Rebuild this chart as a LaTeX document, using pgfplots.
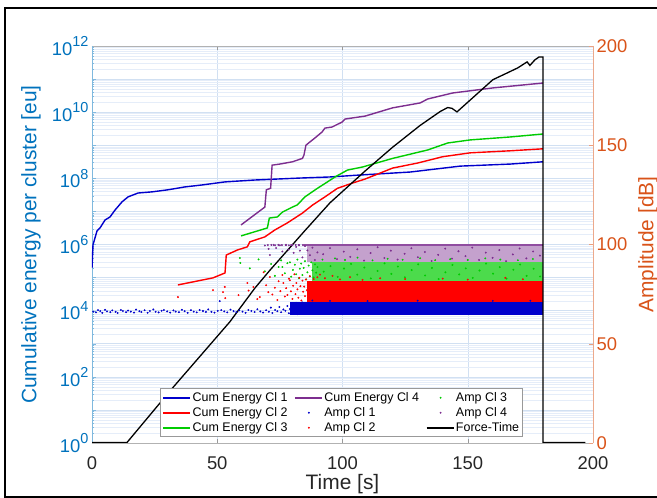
\documentclass[border=0pt]{standalone}
\usepackage{pgfplots}
\pgfplotsset{compat=1.18}
\usepackage{fontspec}
\setmainfont{Liberation Sans}
\definecolor{mblue}{rgb}{0,0.447,0.741}
\definecolor{morange}{rgb}{0.85,0.325,0.098}
\definecolor{gridc}{rgb}{0.82,0.88,0.95}
\definecolor{gridm}{rgb}{0.90,0.93,0.975}
\definecolor{c1}{rgb}{0,0,0.8}
\definecolor{c2}{rgb}{1,0,0}
\definecolor{c3}{rgb}{0,0.8,0}
\definecolor{c4}{rgb}{0.49,0.18,0.56}
\newcommand{\tp}[1]{10\raisebox{8.5bp}{\fontsize{14.5}{14.5}\selectfont #1}}
\pgfplotsset{
  dotlegend/.style={legend image code/.code={\draw[##1] plot coordinates {(14bp,0bp)};}},
}
\begin{document}
\begin{tikzpicture}
\begin{axis}[
  scale only axis, width=501bp, height=397bp,
  xmin=0, xmax=200, ymode=log, ymin=1, ymax=1e12,
  axis y line*=left,
  separate axis lines,
  x axis line style={black!30},
  y axis line style={mblue!50},
  xtick={0,50,100,150,200},
  ytick={1,1e1,1e2,1e3,1e4,1e5,1e6,1e7,1e8,1e9,1e10,1e11,1e12},
  yticklabels={\tp{0},,\tp{2},,\tp{4},,\tp{6},,\tp{8},,\tp{10},,\tp{12}},
  minor ytick={2e0,3e0,4e0,5e0,6e0,7e0,8e0,9e0,2e1,3e1,4e1,5e1,6e1,7e1,8e1,9e1,2e2,3e2,4e2,5e2,6e2,7e2,8e2,9e2,2e3,3e3,4e3,5e3,6e3,7e3,8e3,9e3,2e4,3e4,4e4,5e4,6e4,7e4,8e4,9e4,2e5,3e5,4e5,5e5,6e5,7e5,8e5,9e5,2e6,3e6,4e6,5e6,6e6,7e6,8e6,9e6,2e7,3e7,4e7,5e7,6e7,7e7,8e7,9e7,2e8,3e8,4e8,5e8,6e8,7e8,8e8,9e8,2e9,3e9,4e9,5e9,6e9,7e9,8e9,9e9,2e10,3e10,4e10,5e10,6e10,7e10,8e10,9e10,2e11,3e11,4e11,5e11,6e11,7e11,8e11,9e11},
  xmajorgrids, ymajorgrids, yminorgrids,
  major grid style={gridc, line width=0.5bp},
  minor grid style={gridm, line width=0.4bp},
  tick align=inside,
  major tick length=4bp, minor tick length=2bp,
  x tick style={black!40},
  y tick style={mblue!50},
  tick label style={font=\fontsize{18.5}{18.5}\selectfont},
  xticklabel style={black!85, inner sep=0pt, yshift=-13.5bp},
  yticklabel style={mblue},
  /pgf/number format/assume math mode=true,
  xlabel={Time [s]},
  xlabel style={at={(axis description cs:0.5,-0.1171)}, anchor=base, inner sep=0pt, black!85, font=\fontsize{21}{21}\selectfont},
  ylabel={Cumulative energy per cluster [eu]},
  ylabel style={at={(axis description cs:-0.1218,0.5)}, anchor=center, mblue, font=\fontsize{21}{21}\selectfont},
]
\addplot[c1, line width=1.4bp] coordinates {(0,1.95e5) (0.4,9.8e5) (2,2.57e6) (3.2,3.16e6) (5.2,5.5e6) (7.2,6.8e6) (9.2,1.1e7) (12,1.95e7) (14.4,2.75e7) (18.4,3.6e7) (24,3.9e7) (30.3,4.5e7) (37.1,5.5e7) (43.9,6.3e7) (53.1,7.8e7) (65,8.9e7) (83,1.02e8) (95,1.1e8) (107,1.26e8) (127,1.55e8) (147,2.34e8) (167,2.7e8) (180,3.16e8)};
\addplot[c2, line width=1.4bp] coordinates {(34.3,6e4) (48.3,9.8e4) (53.1,1.38e5) (53.6,4.8e5) (58,6.8e5) (62,8.5e5) (63,1.2e6) (69,1.7e6) (73,2.75e6) (78,4.5e6) (84,8.9e6) (88,1.55e7) (93,2.75e7) (98,5e7) (104,7.2e7) (109,9.5e7) (120,2.04e8) (130,2.9e8) (140,4.5e8) (151,5.9e8) (167,6.8e8) (180,7.8e8)};
\addplot[c3, line width=1.4bp] coordinates {(59.5,1.82e6) (70,3.16e6) (70.8,6.3e6) (74,6.8e6) (76,9.5e6) (80,1.35e7) (82,1.58e7) (85,2.75e7) (90,5e7) (94,7.8e7) (97,1.1e8) (102,1.78e8) (108,2.2e8) (120,4e8) (134,7.2e8) (142,1.17e9) (151,1.45e9) (167,1.78e9) (180,2.19e9)};
\addplot[c4, line width=1.4bp] coordinates {(59.5,3.9e6) (69,1.35e7) (69.6,4.5e7) (71.3,5e7) (71.9,2.5e8) (75,2.7e8) (80,3.16e8) (84,4e8) (84.6,5e8) (85.4,1e9) (87,1.26e9) (89,1.66e9) (91.8,2.5e9) (93,3.3e9) (95.8,3.55e9) (99.8,5e9) (101,6.2e9) (109,7.6e9) (120,1.35e10) (131,1.9e10) (134,2.5e10) (144,3.8e10) (160,5.4e10) (180,7.6e10)};
\end{axis}
\begin{axis}[
  scale only axis, width=501bp, height=397bp,
  xmin=0, xmax=200, ymin=0, ymax=200,
  axis y line*=right, axis x line=none,
  y axis line style={morange!50},
  ytick={0,50,100,150,200},
  tick align=inside, major tick length=4bp,
  y tick style={morange!55},
  tick label style={font=\fontsize{18.5}{18.5}\selectfont},
  yticklabel style={morange},
  /pgf/number format/assume math mode=true,
  ylabel={Amplitude [dB]},
  ylabel style={at={(axis description cs:1.1098,0.5)}, anchor=center, morange, font=\fontsize{21}{21}\selectfont},
  legend image code/.code={\draw[#1] (0bp,0bp) -- (27bp,0bp);},
  legend columns=3, transpose legend, legend cell align=left,
  legend style={at={(0.136,0.015)}, anchor=south west, draw=black!40, fill=white, line width=0.6bp,
    inner xsep=2bp, inner ysep=1.5bp, row sep=0bp,
    font=\fontsize{12.5}{13}\selectfont,
    nodes={inner sep=1.5bp, text height=9.3bp, text depth=2.7bp},
    /tikz/every even column/.append style={column sep=5bp}},
]
\addlegendimage{c1, line width=1.8bp}\addlegendentry{Cum Energy Cl 1}
\addlegendimage{c2, line width=1.8bp}\addlegendentry{Cum Energy Cl 2}
\addlegendimage{c3, line width=1.8bp}\addlegendentry{Cum Energy Cl 3}
\addlegendimage{c4, line width=1.8bp}\addlegendentry{Cum Energy Cl 4}
\addlegendimage{c1, only marks, mark=*, mark size=0.6bp, dotlegend}\addlegendentry{Amp Cl 1}
\addlegendimage{c2, only marks, mark=*, mark size=0.6bp, dotlegend}\addlegendentry{Amp Cl 2}
\addlegendimage{c3, only marks, mark=*, mark size=0.6bp, dotlegend}\addlegendentry{Amp Cl 3}
\addlegendimage{c4, only marks, mark=*, mark size=0.6bp, dotlegend}\addlegendentry{Amp Cl 4}
\addlegendimage{black, line width=1.8bp}\addlegendentry{Force-Time}
% purple band
\addplot[draw=none, fill=c4!45!white, forget plot] coordinates {(86,91) (180,91) (180,99.4) (86,99.4)} -- cycle;
\addplot[draw=none, fill=c4!85!white, forget plot] coordinates {(84,99.2) (180,99.2) (180,100) (84,100)} -- cycle;
\addplot[c4, only marks, mark=*, mark size=0.75bp, forget plot] coordinates {
(69.0,99.5)(70.5,97.8)(71.0,94.7)(72.5,99.8)(73.5,98.2)(75.0,99.6)(76.0,96.5)(77.5,99.8)(78.5,97.4)(79.5,99.7)(80.5,95.8)(81.5,98.8)(82.5,99.7)(83.0,96.9)(84.0,93.5)(85.0,99.2)(86.0,97.0)(87.0,94.6)(88.0,98.4)(89.0,92.2)(90.0,96.0)
(70.2,99.7)(71.6,99.8)(73.1,99.6)(74.4,99.8)(75.8,99.7)(77.3,99.8)(78.6,99.6)(80.0,99.7)(81.3,99.8)(82.7,99.7)
(92.3,95.1)(95.0,98.2)(97.8,92.6)(100.5,96.4)(103.1,93.8)(105.9,97.6)(108.6,91.9)(111.2,95.7)(114.0,98.6)(116.7,93.2)(119.3,96.9)(122.0,92.4)(124.8,95.3)(127.5,98.1)(130.1,93.6)(132.9,96.2)(135.6,91.7)(138.2,94.8)(141.0,97.9)(143.7,92.9)(146.3,96.6)(149.1,94.1)(151.8,98.4)(154.5,92.2)(157.2,95.9)(159.9,93.3)(162.6,97.2)(165.3,91.6)(168.0,95.0)(170.7,98.0)(173.4,93.0)(176.1,96.5)(178.8,94.4)};
% green band
\addplot[draw=none, fill=c3!70!white, forget plot] coordinates {(88,81.6) (180,81.6) (180,91) (88,91)} -- cycle;
\addplot[c3, only marks, mark=*, mark size=0.75bp, forget plot] coordinates {
(59.0,93.2)(59.2,90.7)(63.0,88.0)(66.5,92.5)(69.0,86.5)(71.5,90.2)(73.0,84.2)(74.5,88.7)(75.5,92.0)(76.0,88.7)(77.0,85.5)(78.0,90.6)(79.0,91.0)(79.5,83.8)(80.2,87.2)(81.0,89.8)(81.5,85.0)(82.0,92.4)(82.6,83.0)(83.0,87.8)(83.5,90.4)(84.0,84.6)(84.5,88.2)(85.0,91.6)(85.5,82.4)(86.0,86.0)(86.5,89.4)(87.0,84.0)(87.5,91.0)(88.0,87.0)(88.5,83.4)(89.0,90.0)(89.5,85.8)(90.0,88.6)
(92,92.4)(97,93.0)(101,92.2)(106,93.4)(112,92.0)(118,92.8)(124,92.3)(131,93.1)(137,92.1)(143,92.6)(150,92.2)(157,93.0)(163,92.4)(170,92.1)(176,92.7)
(92.5,86.3)(95.2,89.1)(98.1,83.7)(100.6,87.9)(103.4,90.2)(105.9,84.8)(108.7,88.4)(111.3,82.9)(114.0,86.7)(116.8,90.5)(119.5,85.2)(122.1,88.9)(124.9,83.5)(127.6,87.1)(130.2,90.0)(133.0,84.4)(135.7,88.2)(138.4,82.6)(141.1,86.0)(143.9,89.7)(146.6,84.9)(149.2,88.0)(152.0,83.2)(154.7,86.9)(157.3,90.4)(160.1,85.3)(162.8,88.6)(165.5,82.8)(168.2,87.3)(170.9,89.9)(173.5,84.2)(176.3,87.8)(178.9,83.9)};
% red band
\addplot[draw=none, fill=c2, forget plot] coordinates {(86,71) (180,71) (180,81.6) (86,81.6)} -- cycle;
\addplot[c2, only marks, mark=*, mark size=0.75bp, forget plot] coordinates {
(34.3,73.5)(48.3,77.0)(52.3,76.0)(53.0,78.6)(53.2,73.0)(58.5,74.5)(62.0,80.6)(62.5,76.8)(64.4,78.6)(66.0,72.5)(67.0,73.5)(68.5,86.0)(69.5,79.5)(70.4,76.0)(71.0,83.6)(72.0,74.8)(73.0,78.2)(74.0,72.0)(74.5,81.5)(75.2,76.5)(76.0,84.6)(76.4,80.6)(77.0,73.8)(77.5,78.0)(78.0,74.6)(78.6,82.8)(79.0,82.0)(79.4,76.4)(80.0,72.6)(80.3,79.2)(80.8,85.0)(81.2,75.0)(81.6,80.6)(82.0,77.4)(82.4,73.2)(82.8,83.2)(83.2,79.0)(83.6,71.8)(84.0,81.8)(84.3,76.2)(84.7,78.8)(85.0,74.0)(85.4,82.4)(85.8,77.0)(86.2,80.0)(86.6,72.8)(87.0,84.0)(87.5,75.6)(88.0,79.6)(88.5,82.6)(89.0,73.4)(90.0,83.5)(91.0,84.8)(93.0,83.0)(96.0,84.2)(99.0,82.4)(103.0,83.6)(108.0,82.2)(115.0,83.0)(125.0,82.6)(140.0,82.8)(150.0,82.3)(165.0,83.2)(172.0,82.5)};
% blue band
\addplot[draw=none, fill=c1, forget plot] coordinates {(79,64.5) (180,64.5) (180,71) (79,71)} -- cycle;
\addplot[c1, only marks, mark=*, mark size=0.75bp, forget plot] coordinates {
(0.5,66.2)(1.6,65.8)(2.4,66.9)(3.3,66.4)(4.1,65.6)(5.2,67.1)(6.0,66.3)(7.3,65.9)(8.1,66.8)(9.4,66.1)(10.2,65.5)(11.5,67.0)(12.3,66.5)(13.6,65.9)(14.4,66.7)(15.5,66.2)(16.8,65.7)(17.6,67.2)(18.9,66.4)(19.7,66.0)(21.0,66.9)(22.2,65.6)(23.1,66.5)(24.5,67.3)(25.4,66.1)(26.6,65.8)(27.8,66.6)(28.7,67.0)(30.0,66.3)(31.2,65.7)(32.5,66.8)(33.4,66.2)(34.7,65.9)(35.9,67.1)(37.0,66.4)(38.2,65.6)(39.5,66.9)(40.6,66.2)(41.8,65.8)(43.0,67.0)(44.3,66.5)(45.5,66.0)(46.4,67.3)(47.7,66.1)(48.9,65.7)(50.2,66.6)(51.0,71.5)(51.6,66.9)(52.8,66.3)(54.0,65.8)(55.3,67.2)(56.5,66.4)(57.6,65.9)(58.8,66.8)(60.1,66.2)(61.3,65.6)(62.4,67.0)(63.6,66.5)(64.9,66.0)(66.0,67.4)(67.2,66.3)(68.3,65.7)(69.5,66.9)(70.6,66.1)(71.4,68.2)(72.0,65.5)(73.1,67.0)(74.0,66.4)(74.8,68.5)(75.5,65.9)(76.4,67.3)(77.2,66.6)(78.0,69.0)(78.6,65.4)
(79,67.5)(79.5,70.2)(80,65.3)(80.5,68.4)(81,66.7)(81.5,70.6)(82,64.9)(82.5,69.1)(83,67.8)(83.5,65.6)(84,70.8)(84.5,68.0)(85,66.2)(85.5,69.5)(86,65.1)
(88,71.8)(95,71.6)(110,71.5)(130,71.7)(160,71.6)(175,71.7)};
% force-time
\addplot[black, line width=1.3bp, forget plot] coordinates {(0,0.3) (14,0.3) (32,27.5) (55,61) (65,78) (71,87) (85,107) (95,121) (109,137) (120,149) (131,160) (139,167) (142,169) (143.7,168.6) (145.7,166.8) (151,172.8) (160,183) (165.7,186.4) (170,189) (173.7,192) (174.8,190.2) (176.8,193) (178.5,194.5) (180,194.5) (180,0.3) (197,0.3)};
\end{axis}
\draw[black, line width=1.5bp] (566bp,435bp) -- (-87bp,435bp) -- (-87bp,-54bp) -- (566bp,-54bp);
\pgfresetboundingbox
\useasboundingbox (-92bp,-55bp) rectangle (565bp,443bp);
\end{tikzpicture}
\end{document}
